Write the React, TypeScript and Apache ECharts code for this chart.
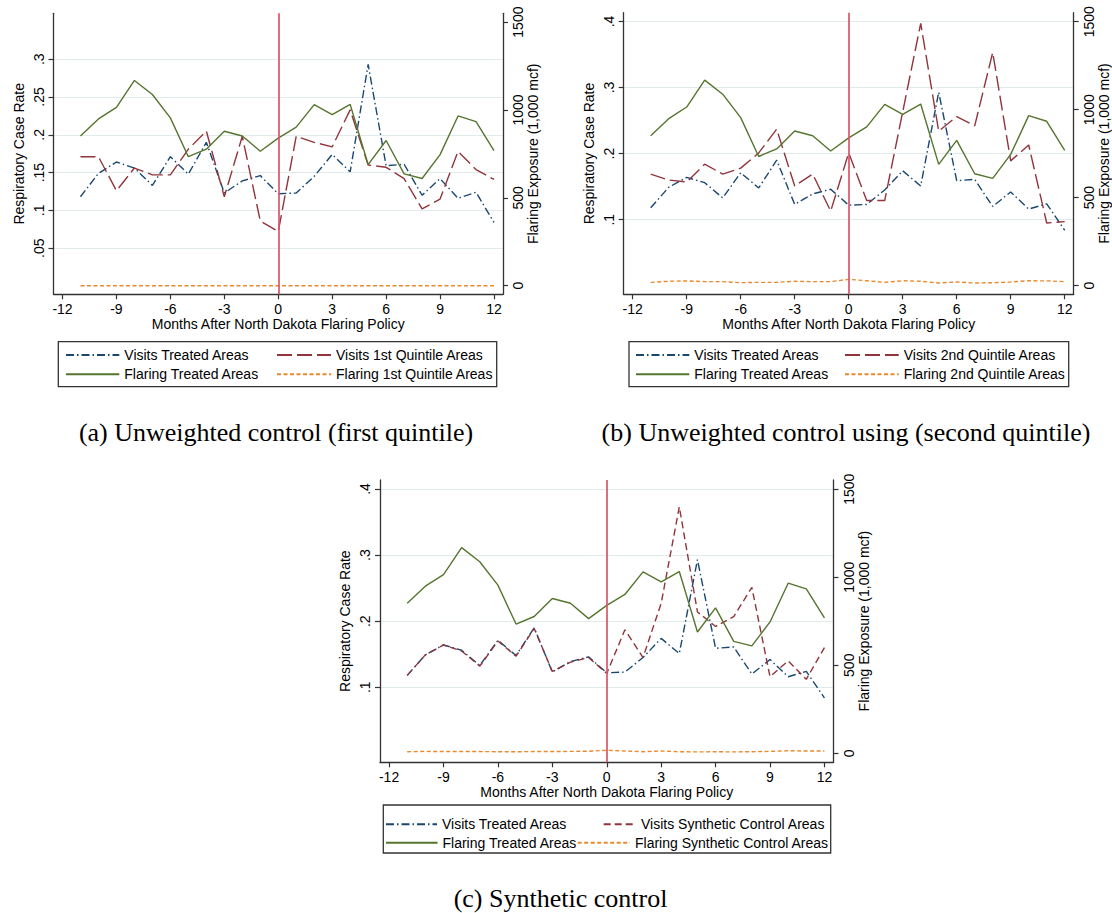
import React, { useEffect, useRef } from "react";
import * as echarts from "echarts";

// ---------------- data ----------------
const months = [-11, -10, -9, -8, -7, -6, -5, -4, -3, -2, -1, 0, 1, 2, 3, 4, 5, 6, 7, 8, 9, 10, 11, 12];
const xTicks = [-12, -9, -6, -3, 0, 3, 6, 9, 12];
const rateTicksA = [0.05, 0.1, 0.15, 0.2, 0.25, 0.3];
const rateTicksBC = [0.1, 0.2, 0.3, 0.4];
const flaringTicks = [0, 500, 1000, 1500];

const visitsTreated = [0.118, 0.149, 0.164, 0.156, 0.133, 0.171, 0.148, 0.19, 0.123, 0.139, 0.146, 0.122, 0.123, 0.145, 0.174, 0.151, 0.293, 0.159, 0.161, 0.12, 0.142, 0.116, 0.124, 0.084];
const flaringTreated = [852, 949, 1015, 1168, 1088, 955, 734, 777, 879, 852, 765, 840, 902, 1030, 973, 1032, 689, 826, 636, 610, 746, 966, 934, 769];

const visitsQ1 = [0.171, 0.171, 0.126, 0.156, 0.147, 0.147, 0.181, 0.205, 0.118, 0.198, 0.086, 0.072, 0.198, 0.19, 0.184, 0.233, 0.16, 0.157, 0.142, 0.102, 0.115, 0.178, 0.154, 0.141];
const flaringQ1 = [0, 0, 0, 0, 0, 0, 0, 0, 0, 0, 0, 0, 0, 0, 0, 0, 0, 0, 0, 0, 0, 0, 0, 0];

const visitsQ2 = [0.169, 0.16, 0.157, 0.184, 0.169, 0.178, 0.201, 0.237, 0.151, 0.169, 0.113, 0.201, 0.129, 0.129, 0.263, 0.397, 0.234, 0.256, 0.242, 0.353, 0.189, 0.213, 0.095, 0.097];
const flaringQ2 = [19, 25, 27, 23, 23, 17, 19, 19, 25, 23, 23, 36, 28, 19, 28, 25, 15, 21, 15, 17, 21, 28, 27, 23];

const visitsSynth = [0.118, 0.149, 0.164, 0.155, 0.132, 0.17, 0.147, 0.189, 0.124, 0.138, 0.145, 0.121, 0.187, 0.145, 0.227, 0.373, 0.214, 0.192, 0.207, 0.251, 0.116, 0.14, 0.112, 0.16];
const flaringSynth = [9, 11, 10, 10, 10, 9, 9, 10, 10, 11, 12, 17, 13, 9, 13, 9, 8, 9, 8, 9, 11, 15, 13, 13];

const xTitle = "Months After North Dakota Flaring Policy";
const yLeftTitle = "Respiratory Case Rate";
const yRightTitle = "Flaring Exposure (1,000 mcf)";

const captions = [
  "(a) Unweighted control (first quintile)",
  "(b) Unweighted control using (second quintile)",
  "(c) Synthetic control",
];

// ---------------- styles ----------------
const FONT = '"Liberation Sans", Arial, Helvetica, sans-serif';
const SERIF = '"Liberation Serif", "Times New Roman", serif';
const BLUE = "#1a476f";
const RED = "#90353b";
const GREEN = "#55752f";
const ORANGE = "#e98a2e";
const VLINE = "#d8566a";
const AXIS = "#333";
const GRIDC = "#e2ebec";

const dashDot = [8, 3, 1.5, 3];
const longDash = [15, 5];
const shortDash = [7, 4];
const tinyDash = [4, 2.5];

type Panel = {
  grid: { left: number; top: number; width: number; height: number };
  leftMin: number;
  leftMax: number;
  rightMin: number;
  rightMax: number;
  leftTicks: number[];
  names: string[];
  visitsCtrl: number[];
  flaringCtrl: number[];
  ctrlDash: number[];
  legend: { name: string; left: number; textX: number; top: number }[];
  box: { x: number; y: number; w: number; h: number };
  caption: { x: number; y: number };
};

const panels: Panel[] = [
  {
    grid: { left: 53.5, top: 13.3, width: 449.5, height: 281 },
    leftMin: -0.011,
    leftMax: 0.3607,
    rightMin: -49,
    rightMax: 1550,
    leftTicks: rateTicksA,
    names: ["Visits Treated Areas", "Visits 1st Quintile Areas", "Flaring Treated Areas", "Flaring 1st Quintile Areas"],
    visitsCtrl: visitsQ1,
    flaringCtrl: flaringQ1,
    ctrlDash: longDash,
    legend: [
      { name: "Visits Treated Areas", left: 65, textX: 123.3, top: 348 },
      { name: "Visits 1st Quintile Areas", left: 276, textX: 335, top: 348 },
      { name: "Flaring Treated Areas", left: 65, textX: 123.3, top: 367.3 },
      { name: "Flaring 1st Quintile Areas", left: 276, textX: 335, top: 367.3 },
    ],
    box: { x: 58.3, y: 341.7, w: 438.4, h: 45 },
    caption: { x: 276, y: 432 },
  },
  {
    grid: { left: 623.7, top: 12.7, width: 450, height: 281.6 },
    leftMin: -0.0129,
    leftMax: 0.4132,
    rightMin: -49,
    rightMax: 1551,
    leftTicks: rateTicksBC,
    names: ["Visits Treated Areas", "Visits 2nd Quintile Areas", "Flaring Treated Areas", "Flaring 2nd Quintile Areas"],
    visitsCtrl: visitsQ2,
    flaringCtrl: flaringQ2,
    ctrlDash: longDash,
    legend: [
      { name: "Visits Treated Areas", left: 635, textX: 693.3, top: 348 },
      { name: "Visits 2nd Quintile Areas", left: 844, textX: 902.7, top: 348 },
      { name: "Flaring Treated Areas", left: 635, textX: 693.3, top: 367.3 },
      { name: "Flaring 2nd Quintile Areas", left: 844, textX: 902.7, top: 367.3 },
    ],
    box: { x: 629, y: 341.7, w: 439.7, h: 45 },
    caption: { x: 846, y: 432 },
  },
  {
    grid: { left: 380, top: 480, width: 453.5, height: 282.3 },
    leftMin: -0.0135,
    leftMax: 0.4136,
    rightMin: -51,
    rightMax: 1552,
    leftTicks: rateTicksBC,
    names: ["Visits Treated Areas", "Visits Synthetic Control Areas", "Flaring Treated Areas", "Flaring Synthetic Control Areas"],
    visitsCtrl: visitsSynth,
    flaringCtrl: flaringSynth,
    ctrlDash: shortDash,
    legend: [
      { name: "Visits Treated Areas", left: 385, textX: 441, top: 817.3 },
      { name: "Visits Synthetic Control Areas", left: 602.7, textX: 640, top: 817.3 },
      { name: "Flaring Treated Areas", left: 385, textX: 441.5, top: 835.7 },
      { name: "Flaring Synthetic Control Areas", left: 576.7, textX: 634, top: 835.7 },
    ],
    box: { x: 383.3, y: 805, w: 447.4, h: 48 },
    caption: { x: 560.5, y: 898 },
  },
];

const fmtRate = (v: number) => String(+Number(v).toFixed(3)).replace(/^0\./, ".");
const fmtPlain = (v: number) => String(Math.round(Number(v)));

function buildOption() {
  const grid: any[] = [];
  const xAxis: any[] = [];
  const yAxis: any[] = [];
  const series: any[] = [];
  const legend: any[] = [];
  const graphic: any[] = [];

  panels.forEach((p, pi) => {
    grid.push({ ...p.grid, containLabel: false, outerBoundsMode: "none" });
    xAxis.push({
      type: "value",
      gridIndex: pi,
      min: -12.5,
      max: 12.5,
      name: xTitle,
      nameLocation: "middle",
      nameGap: 23,
      nameMoveOverlap: false,
      nameTextStyle: { fontSize: 14, color: "#000", fontFamily: FONT },
      axisLine: { show: true, onZero: false, lineStyle: { color: AXIS, width: 1.3 } },
      axisTick: { show: true, customValues: xTicks, length: 5, inside: false, lineStyle: { color: AXIS, width: 1.2 } },
      axisLabel: { customValues: xTicks, fontSize: 14, color: "#000", fontFamily: FONT, margin: 8, hideOverlap: false },
      splitLine: { show: false },
    });
    yAxis.push({
      type: "value",
      gridIndex: pi,
      position: "left",
      min: p.leftMin,
      max: p.leftMax,
      name: yLeftTitle,
      nameLocation: "middle",
      nameRotate: 90,
      nameGap: 28,
      nameMoveOverlap: false,
      nameTextStyle: { fontSize: 14, color: "#000", fontFamily: FONT },
      axisLine: { show: true, onZero: false, lineStyle: { color: AXIS, width: 1.3 } },
      axisTick: { show: true, customValues: p.leftTicks, length: 5, lineStyle: { color: AXIS, width: 1.2 } },
      axisLabel: { customValues: p.leftTicks, rotate: 90, fontSize: 14, color: "#000", fontFamily: FONT, margin: 8, formatter: fmtRate, hideOverlap: false },
      splitLine: { show: true, lineStyle: { color: GRIDC, width: 1.2 } },
    });
    yAxis.push({
      type: "value",
      gridIndex: pi,
      position: "right",
      min: p.rightMin,
      max: p.rightMax,
      name: yRightTitle,
      nameLocation: "middle",
      nameRotate: 90,
      nameGap: 23,
      nameMoveOverlap: false,
      nameTextStyle: { fontSize: 14, color: "#000", fontFamily: FONT },
      axisLine: { show: true, onZero: false, lineStyle: { color: AXIS, width: 1.3 } },
      axisTick: { show: true, customValues: flaringTicks, length: 5, lineStyle: { color: AXIS, width: 1.2 } },
      axisLabel: { customValues: flaringTicks, rotate: 90, fontSize: 14, color: "#000", fontFamily: FONT, margin: 8, formatter: fmtPlain, hideOverlap: false },
      splitLine: { show: false },
    });

    const mk = (name: string, yIdx: number, vals: number[], color: string, type: any, z: number, extra: any = {}) => ({
      type: "line",
      name,
      xAxisIndex: pi,
      yAxisIndex: yIdx,
      data: months.map((m, i) => [m, vals[i]]),
      symbol: "none",
      showSymbol: false,
      silent: true,
      z,
      lineStyle: { color, width: 1.4, type },
      itemStyle: { color },
      ...extra,
    });

    series.push(
      mk(p.names[0], pi * 2, visitsTreated, BLUE, dashDot, 3, {
        markLine: {
          silent: true,
          symbol: ["none", "none"],
          label: { show: false },
          lineStyle: { color: VLINE, width: 1.7, type: "solid" },
          data: [{ xAxis: 0 }],
        },
      }),
      mk(p.names[1], pi * 2, p.visitsCtrl, RED, p.ctrlDash, 3),
      mk(p.names[2], pi * 2 + 1, flaringTreated, GREEN, "solid", 3),
      mk(p.names[3], pi * 2 + 1, p.flaringCtrl, ORANGE, tinyDash, 3)
    );

    p.legend.forEach((l) => {
      legend.push({
        data: [l.name],
        left: l.left,
        top: l.top,
        padding: 0,
        itemWidth: l.textX - 5 - l.left,
        itemHeight: 14,
        selectedMode: false,
        itemStyle: { opacity: 0, borderWidth: 0 },
        textStyle: { fontSize: 14, color: "#000", fontFamily: FONT },
      });
    });

    graphic.push({
      type: "rect",
      shape: { x: p.box.x, y: p.box.y, width: p.box.w, height: p.box.h },
      style: { fill: "none", stroke: "#333", lineWidth: 1.3 },
      silent: true,
    });
    graphic.push({
      type: "text",
      x: p.caption.x,
      y: p.caption.y,
      style: { text: captions[pi], font: `26px ${SERIF}`, fill: "#000", align: "center", verticalAlign: "middle" },
      silent: true,
    });
  });

  return {
    animation: false,
    backgroundColor: "#fff",
    grid,
    xAxis,
    yAxis,
    series,
    legend,
    graphic,
  };
}

export default function App() {
  const ref = useRef<HTMLDivElement>(null);
  useEffect(() => {
    if (!ref.current) return;
    const chart = echarts.init(ref.current, null, { renderer: "svg" });
    chart.setOption(buildOption() as any);
    return () => chart.dispose();
  }, []);
  return (
    <div
      ref={ref}
      style={{ position: "absolute", left: 0, top: 0, width: 1112, height: 913, background: "#fff" }}
    />
  );
}
